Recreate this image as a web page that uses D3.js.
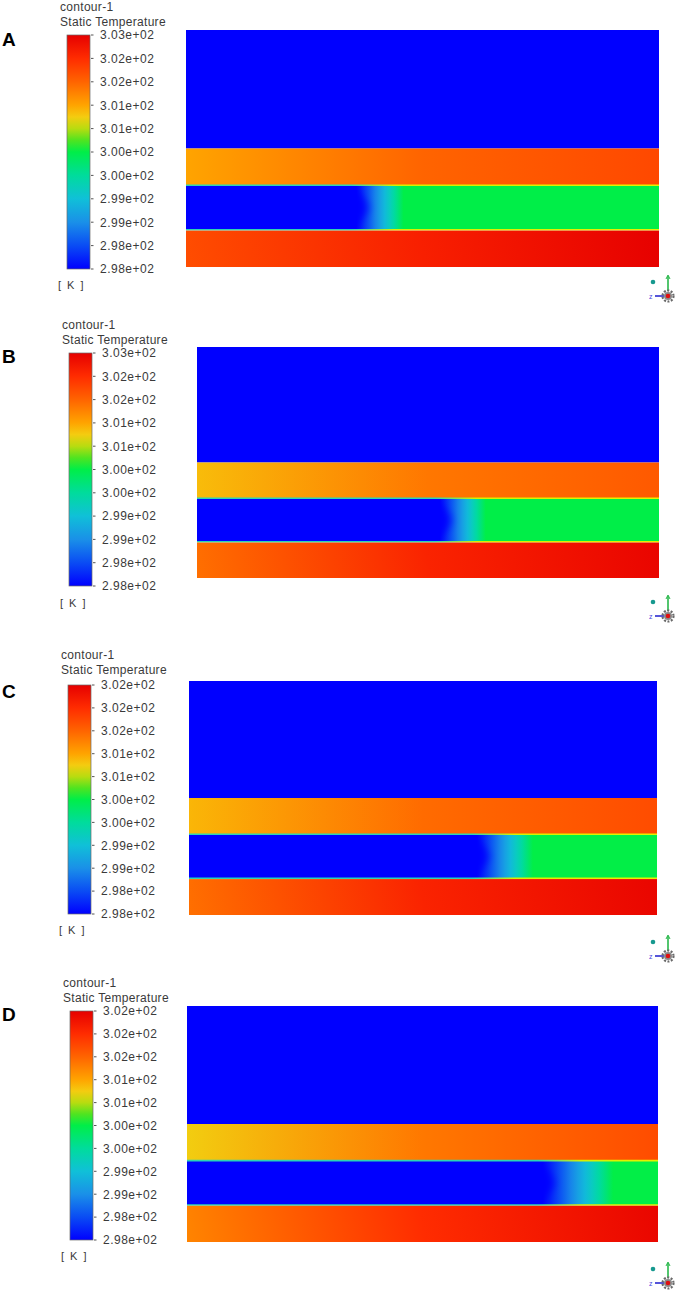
<!DOCTYPE html>
<html>
<head>
<meta charset="utf-8">
<script src="https://cdn.jsdelivr.net/npm/d3@7"></script>
<style>
  body { margin: 0; background: #fff; }
  text { font-family: Arial, "Liberation Sans", sans-serif; }
</style>
</head>
<body>
<div id="chart"></div>
<script>
// ---- data ----
const panelIds = ['A', 'B', 'C', 'D'];

// colour-bar tick labels, bottom to top
const ticksAB = ['2.98e+02', '2.98e+02', '2.99e+02', '2.99e+02', '3.00e+02', '3.00e+02',
                 '3.01e+02', '3.01e+02', '3.02e+02', '3.02e+02', '3.03e+02'];
const ticksCD = ['2.98e+02', '2.98e+02', '2.99e+02', '2.99e+02', '3.00e+02', '3.00e+02',
                 '3.01e+02', '3.01e+02', '3.02e+02', '3.02e+02', '3.02e+02'];
const tickLabels = [ticksAB, ticksAB, ticksCD, ticksCD];

// colour range of each contour [K]
const tMin = [297.6, 297.6, 297.7, 297.7];
const tMax = [302.6, 302.6, 302.45, 302.45];

// band edges, fraction of the plot height (top -> bottom)
const bandEdges = [0, 0.5, 0.655, 0.843, 1];

// stations along the channel (fraction of length) where band temperatures were read
const stations = [0, 0.5, 1];
const warmBandT = [[301.1, 301.6, 301.85], [300.95, 301.45, 301.7], [300.92, 301.45, 301.7], [300.78, 301.35, 301.7]];
const hotBandT  = [[301.8, 302.25, 302.6], [301.5, 302.2, 302.55], [301.4, 302.07, 302.4], [301.25, 301.98, 302.4]];
// middle stream: cold inlet up to the front tip, then warmed up
const frontX = [0.38, 0.545, 0.635, 0.775];
const frontWidth = [0.1, 0.1, 0.12, 0.15];
const greenT = [300.1, 300.1, 300.08, 300.08];

// Fluent-like rainbow colour map
const cmapPos = [0, 0.1, 0.2, 0.3, 0.4, 0.5, 0.55, 0.6, 0.65, 0.7, 0.8, 0.9, 1];
const cmapCol = ['#0000ff', '#0a4cf4', '#1a90e8', '#10c0d8', '#00dc9c', '#00ee48', '#50e420',
                 '#b8dc10', '#f4cc10', '#ffa400', '#ff6400', '#ff2c00', '#e60000'];

// ---- layout (pixels) ----
const layout = [
  {plot: [186, 30, 659, 267],   cb: [67, 35, 90, 269],    titleY: 11,  letterY: 46,   kY: 289,  triad: [668, 296]},
  {plot: [197, 347, 659, 578],  cb: [69, 353, 92, 586],   titleY: 329, letterY: 363,  kY: 607,  triad: [668, 616]},
  {plot: [189, 681, 657, 915],  cb: [68, 685, 91, 914],   titleY: 659, letterY: 698,  kY: 934,  triad: [668, 956]},
  {plot: [187, 1006, 658, 1242], cb: [70, 1011, 93, 1240], titleY: 987, letterY: 1021, kY: 1260, triad: [668, 1283]}
];

const svg = d3.select('#chart').append('svg')
    .attr('width', 678)
    .attr('height', 1294);
const defs = svg.append('defs');
defs.append('filter').attr('id', 'soft')
    .attr('x', '-50%').attr('y', '-50%').attr('width', '200%').attr('height', '200%')
  .append('feGaussianBlur').attr('stdDeviation', '5 2');

const colormap = d3.scaleLinear().domain(cmapPos).range(cmapCol).clamp(true);

function gradient(gid, stops, x1, y1, x2, y2) {
  const lg = defs.append('linearGradient')
      .attr('id', gid)
      .attr('gradientUnits', 'userSpaceOnUse')
      .attr('x1', x1).attr('y1', y1).attr('x2', x2).attr('y2', y2);
  lg.selectAll('stop')
      .data(stops)
    .join('stop')
      .attr('offset', d => d.o)
      .attr('stop-color', d => d.c);
  return `url(#${gid})`;
}

panelIds.forEach((id, i) => {
  const L = layout[i];
  const g = svg.append('g').attr('class', 'panel');

  const x = d3.scaleLinear().domain([0, 1]).range([L.plot[0], L.plot[2]]);
  const y = d3.scaleLinear().domain([0, 1]).range([L.plot[1], L.plot[3]]);
  const norm = d3.scaleLinear().domain([tMin[i], tMax[i]]).range([0, 1]);
  const col = t => colormap(norm(t));

  // ---- header texts ----
  g.append('text')
      .attr('x', 2).attr('y', L.letterY)
      .attr('font-size', 19).attr('font-weight', 'bold').attr('fill', '#000')
      .text(id);
  g.append('text')
      .attr('x', L.cb[0] - 7).attr('y', L.titleY)
      .attr('font-size', 12).attr('letter-spacing', 0.3).attr('fill', '#3a3a3a')
      .text('contour-1');
  g.append('text')
      .attr('x', L.cb[0] - 7).attr('y', L.titleY + 15)
      .attr('font-size', 12).attr('letter-spacing', 0.3).attr('fill', '#3a3a3a')
      .text('Static Temperature');

  // ---- colour bar ----
  const cy = d3.scaleLinear().domain([0, tickLabels[i].length - 1]).range([L.cb[3], L.cb[1]]);
  const cbFill = gradient(`cb-${id}`, cmapPos.map((p, k) => ({o: p, c: cmapCol[k]})),
      0, L.cb[3], 0, L.cb[1]);
  g.append('rect')
      .attr('x', L.cb[0]).attr('y', L.cb[1])
      .attr('width', L.cb[2] - L.cb[0]).attr('height', L.cb[3] - L.cb[1])
      .attr('fill', cbFill)
      .attr('stroke', '#6a6a6a').attr('stroke-width', 0.7);
  g.selectAll('.tick-mark')
      .data(tickLabels[i])
    .join('line')
      .attr('class', 'tick-mark')
      .attr('x1', L.cb[2] + 1).attr('x2', L.cb[2] + 3.5)
      .attr('y1', (d, k) => cy(k)).attr('y2', (d, k) => cy(k))
      .attr('stroke', '#555').attr('stroke-width', 1);
  g.selectAll('.tick-label')
      .data(tickLabels[i])
    .join('text')
      .attr('class', 'tick-label')
      .attr('x', L.cb[2] + 10)
      .attr('y', (d, k) => cy(k))
      .attr('dy', '0.36em')
      .attr('font-size', 12).attr('letter-spacing', 0.5).attr('fill', '#3a3a3a')
      .text(d => d);
  g.append('text')
      .attr('x', L.cb[0] - 9).attr('y', L.kY)
      .attr('font-size', 11).attr('letter-spacing', 1.5).attr('fill', '#3a3a3a')
      .text('[ K ]');

  // ---- contour field ----
  const [e0, e1, e2, e3, e4] = bandEdges;
  const cold = tMin[i];
  const f = frontX[i];
  const w = frontWidth[i];

  // top stream: uniformly cold
  g.append('rect')
      .attr('x', x(0)).attr('y', y(e0))
      .attr('width', x(1) - x(0)).attr('height', y(e1) - y(e0))
      .attr('fill', col(cold));

  // warm band
  const warmFill = gradient(`warm-${id}`,
      stations.map((s, k) => ({o: s, c: col(warmBandT[i][k])})),
      x(0), 0, x(1), 0);
  g.append('rect')
      .attr('x', x(0)).attr('y', y(e1))
      .attr('width', x(1) - x(0)).attr('height', y(e2) - y(e1))
      .attr('fill', warmFill);

  // middle stream: cold core, then front to green
  const frontStops = d3.range(0, 1.0001, 0.1).map(u => ({
    o: (f - 0.02) + u * w,
    c: col(cold + (greenT[i] - cold) * Math.pow(u, 1.1))
  }));
  const midFill = gradient(`mid-${id}`,
      [{o: 0, c: col(cold)}, ...frontStops, {o: 1, c: col(greenT[i])}],
      x(0), 0, x(1), 0);
  defs.append('clipPath').attr('id', `clip-mid-${id}`)
    .append('rect')
      .attr('x', x(0)).attr('y', y(e2))
      .attr('width', x(1) - x(0)).attr('height', y(e3) - y(e2));
  const mid = g.append('g').attr('clip-path', `url(#clip-mid-${id})`);
  mid.append('rect')
      .attr('x', x(0)).attr('y', y(e2))
      .attr('width', x(1) - x(0)).attr('height', y(e3) - y(e2))
      .attr('fill', midFill);
  // blunt, rounded cold nose
  const nose = d3.line().x(d => x(d[0])).y(d => y(d[1])).curve(d3.curveCatmullRom.alpha(0.5));
  mid.append('path')
      .attr('d', nose([[0, e2 - 0.01], [f - 0.045, e2 - 0.01], [f - 0.015, e2 + 0.035], [f, e2 + 0.08],
                       [f, e3 - 0.08], [f - 0.015, e3 - 0.035], [f - 0.045, e3 + 0.01], [0, e3 + 0.01]]) + 'Z')
      .attr('fill', col(cold))
      .attr('filter', 'url(#soft)');
  // thin mixing layers along the walls of the middle stream
  const edgeFill = gradient(`edge-${id}`,
      [{o: 0, c: '#2cd4b4'}, {o: f - 0.03, c: '#2cd4b4'}, {o: f + 0.06, c: '#d8f000'}, {o: 1, c: '#e8f000'}],
      x(0), 0, x(1), 0);
  [e2, e3].forEach(e => {
    g.append('line')
        .attr('x1', x(0)).attr('x2', x(1))
        .attr('y1', y(e)).attr('y2', y(e))
        .attr('stroke', edgeFill).attr('stroke-width', 1.6);
  });

  // hot bottom band, slightly slanted gradient
  const hotFill = gradient(`hot-${id}`,
      stations.map((s, k) => ({o: s, c: col(hotBandT[i][k])})),
      x(0), y(e4) + 25, x(1), y(e3) - 25);
  g.append('rect')
      .attr('x', x(0)).attr('y', y(e3) + 0.8)
      .attr('width', x(1) - x(0)).attr('height', y(e4) - y(e3) - 0.8)
      .attr('fill', hotFill);

  // ---- axis triad ----
  const [tx, ty] = L.triad;
  const tri = g.append('g').attr('class', 'triad');
  tri.append('circle').attr('cx', tx - 15).attr('cy', ty - 14).attr('r', 2.3).attr('fill', '#17998f');
  tri.append('line').attr('x1', tx).attr('x2', tx).attr('y1', ty - 20).attr('y2', ty - 5)
      .attr('stroke', '#27b84a').attr('stroke-width', 1.6);
  tri.append('path').attr('d', `M${tx - 2},${ty - 17} L${tx},${ty - 21} L${tx + 2},${ty - 17}`)
      .attr('fill', 'none').attr('stroke', '#27b84a').attr('stroke-width', 1);
  tri.append('line').attr('x1', tx - 13).attr('x2', tx - 4).attr('y1', ty).attr('y2', ty)
      .attr('stroke', '#2b2bd0').attr('stroke-width', 1.6);
  tri.append('text').attr('x', tx - 19).attr('y', ty + 2.5)
      .attr('font-size', 7).attr('fill', '#4a4ae0').text('z');
  tri.append('circle').attr('cx', tx).attr('cy', ty).attr('r', 5.5)
      .attr('fill', 'none').attr('stroke', '#6a6a6a').attr('stroke-width', 2.2)
      .attr('stroke-dasharray', '2,1.5');
  tri.append('circle').attr('cx', tx).attr('cy', ty).attr('r', 4).attr('fill', '#8a8a8a');
  tri.append('circle').attr('cx', tx).attr('cy', ty).attr('r', 2.3).attr('fill', '#e01010');
});
</script>
</body>
</html>
